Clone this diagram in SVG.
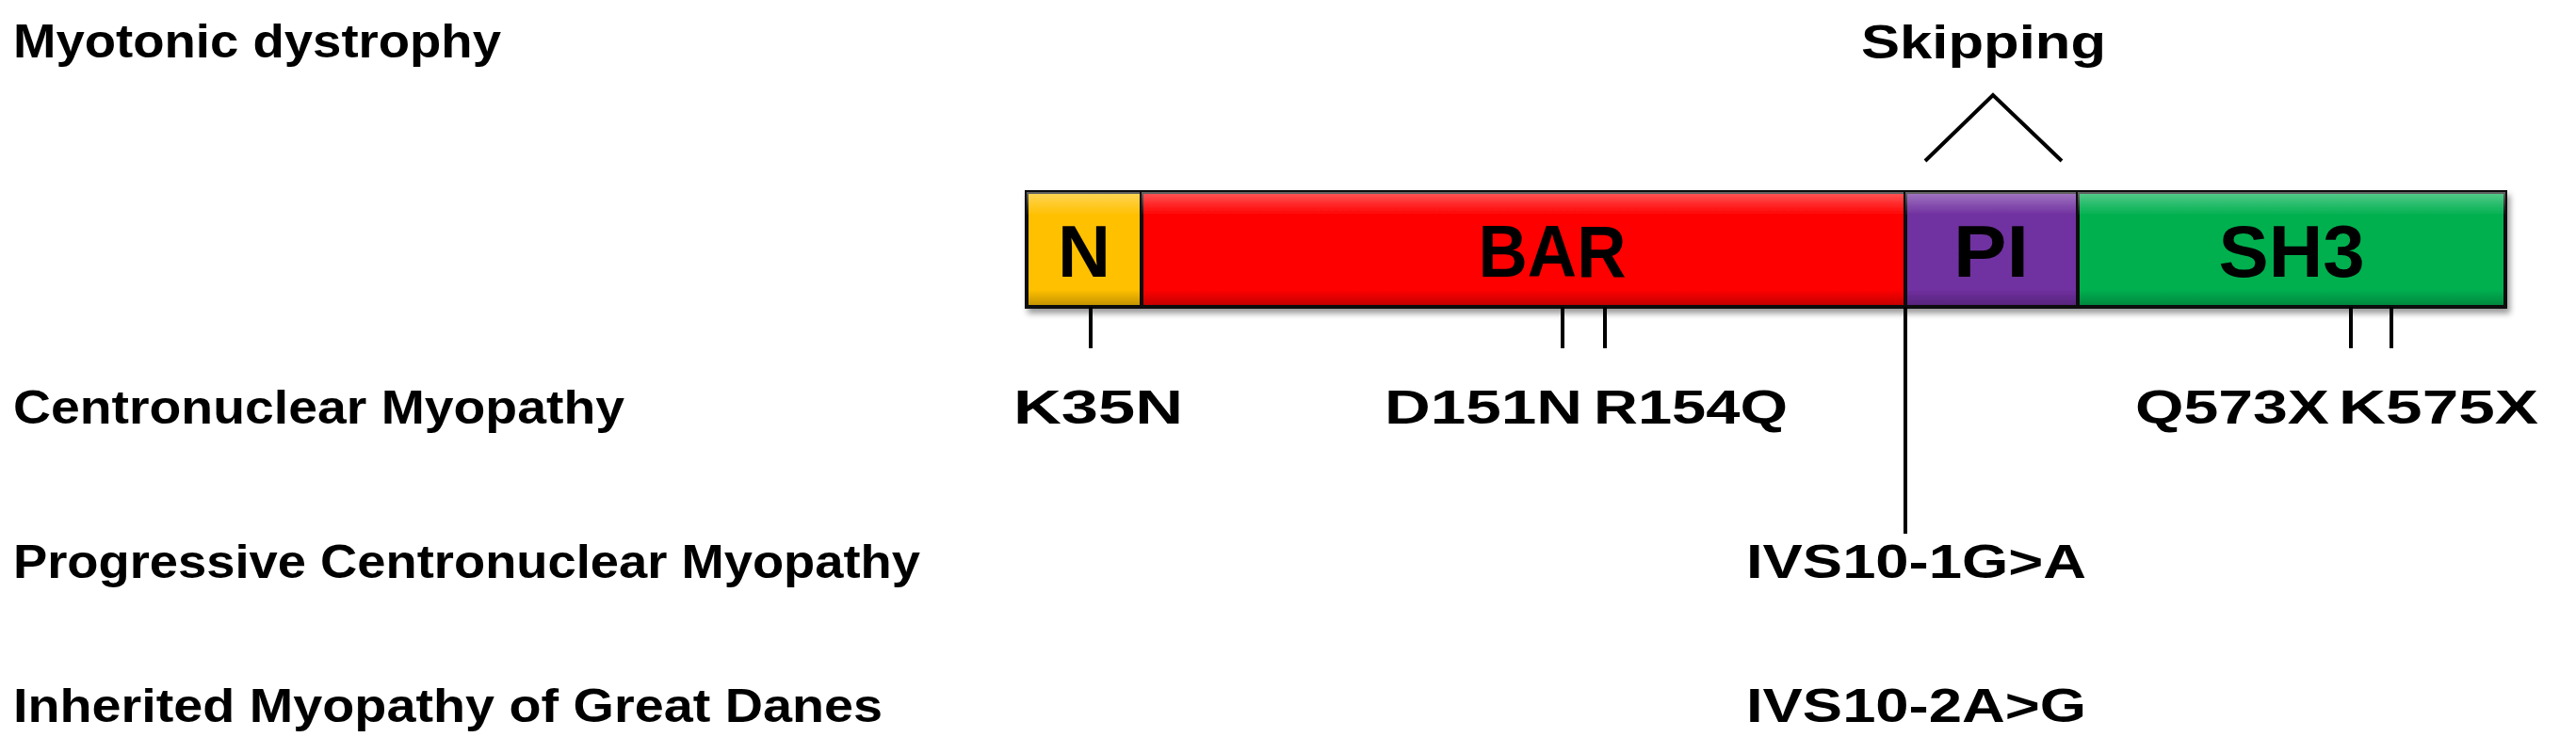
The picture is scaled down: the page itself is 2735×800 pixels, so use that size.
<svg xmlns="http://www.w3.org/2000/svg" width="2735" height="800" viewBox="0 0 2735 800">
<style>
.t{font-family:"Liberation Sans",Arial,sans-serif;font-weight:bold;fill:#000}
.lab{font-size:50px}
.dom{font-size:78px;text-anchor:middle}
.box{stroke:#111;stroke-width:4}
.ln{stroke:#000;stroke-width:4;fill:none}
</style>
<defs>
<linearGradient id="sh" x1="0" y1="0" x2="0" y2="1">
<stop offset="0" stop-color="#fff" stop-opacity="0.35"/>
<stop offset="0.2" stop-color="#fff" stop-opacity="0"/>
<stop offset="0.85" stop-color="#000" stop-opacity="0"/>
<stop offset="1" stop-color="#000" stop-opacity="0.25"/>
</linearGradient>
<filter id="ds" x="-5%" y="-20%" width="110%" height="150%">
<feDropShadow dx="3" dy="5" stdDeviation="3" flood-opacity="0.4"/>
</filter>
</defs>
<rect width="2735" height="800" fill="#fff"/>
<g id="left-labels">
<text class="t lab" x="14" y="61" textLength="518" lengthAdjust="spacingAndGlyphs">Myotonic dystrophy</text>
<text class="t lab" x="14" y="450" textLength="649" lengthAdjust="spacingAndGlyphs">Centronuclear Myopathy</text>
<text class="t lab" x="14" y="614" textLength="963" lengthAdjust="spacingAndGlyphs">Progressive Centronuclear Myopathy</text>
<text class="t lab" x="14" y="767" textLength="923" lengthAdjust="spacingAndGlyphs">Inherited Myopathy of Great Danes</text>
</g>
<g id="protein" filter="url(#ds)">
<g id="N"><rect class="box" x="1090" y="204" width="122" height="122" fill="#FFC000"/><rect x="1090" y="204" width="122" height="122" fill="url(#sh)"/><text class="t dom" x="1151" y="294" textLength="56" lengthAdjust="spacingAndGlyphs">N</text></g>
<g id="BAR"><rect class="box" x="1212" y="204" width="811" height="122" fill="#FF0000"/><rect x="1212" y="204" width="811" height="122" fill="url(#sh)"/><text class="t dom" x="1648" y="294" textLength="157" lengthAdjust="spacingAndGlyphs">BAR</text></g>
<g id="PI"><rect class="box" x="2023" y="204" width="183" height="122" fill="#7030A0"/><rect x="2023" y="204" width="183" height="122" fill="url(#sh)"/><text class="t dom" x="2114" y="294" textLength="80" lengthAdjust="spacingAndGlyphs">PI</text></g>
<g id="SH3"><rect class="box" x="2206" y="204" width="454" height="122" fill="#00B050"/><rect x="2206" y="204" width="454" height="122" fill="url(#sh)"/><text class="t dom" x="2433" y="294" textLength="155" lengthAdjust="spacingAndGlyphs">SH3</text></g>
</g>
<g id="connectors">
<polyline class="ln" points="2044,171 2116,101 2189,171"/>
<line class="ln" x1="1158" y1="326" x2="1158" y2="370"/>
<line class="ln" x1="1659" y1="326" x2="1659" y2="370"/>
<line class="ln" x1="1704" y1="326" x2="1704" y2="370"/>
<line class="ln" x1="2496" y1="326" x2="2496" y2="370"/>
<line class="ln" x1="2539" y1="326" x2="2539" y2="370"/>
<line class="ln" x1="2023" y1="326" x2="2023" y2="567"/>
</g>
<g id="mutations">
<text class="t lab" x="1976" y="62" textLength="260" lengthAdjust="spacingAndGlyphs">Skipping</text>
<text class="t lab" x="1076" y="450" textLength="180" lengthAdjust="spacingAndGlyphs">K35N</text>
<text class="t lab" x="1470" y="450" textLength="210" lengthAdjust="spacingAndGlyphs">D151N</text>
<text class="t lab" x="1692" y="450" textLength="206" lengthAdjust="spacingAndGlyphs">R154Q</text>
<text class="t lab" x="2267" y="450" textLength="206" lengthAdjust="spacingAndGlyphs">Q573X</text>
<text class="t lab" x="2483" y="450" textLength="212" lengthAdjust="spacingAndGlyphs">K575X</text>
<text class="t lab" x="1854" y="614" textLength="361" lengthAdjust="spacingAndGlyphs">IVS10-1G&gt;A</text>
<text class="t lab" x="1854" y="767" textLength="361" lengthAdjust="spacingAndGlyphs">IVS10-2A&gt;G</text>
</g>
</svg>
